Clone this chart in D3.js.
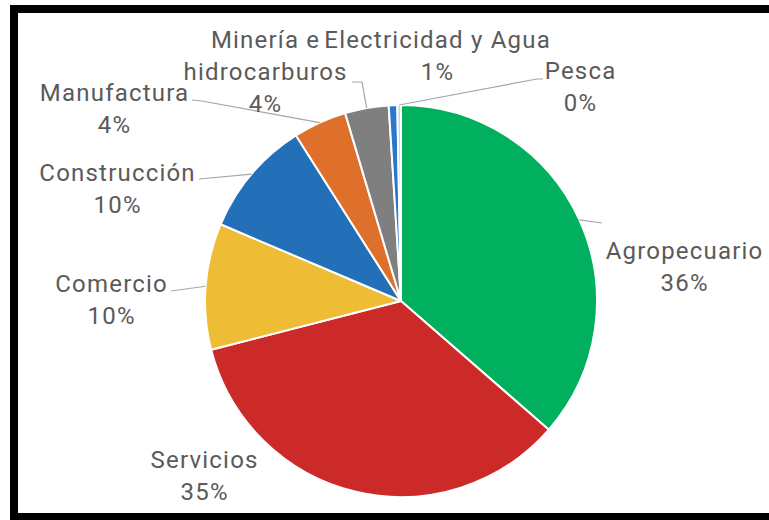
<!DOCTYPE html>
<html>
<head>
<meta charset="utf-8">
<script src="https://cdn.jsdelivr.net/npm/d3@7/dist/d3.min.js"></script>
<style>
  html, body { margin: 0; padding: 0; background: #fff; }
  svg { display: block; }
  .lbl { font-family: Roboto, "Noto Sans", sans-serif; font-size: 24px; letter-spacing: 1.2px; fill: #5a5a5a; }
</style>
</head>
<body>
<svg id="chart" width="769" height="520"></svg>
<script>
// Share of each sector (percent), clockwise from 12 o'clock
const sectors = ["Agropecuario", "Servicios", "Comercio", "Construcción",
                 "Manufactura", "Minería e hidrocarburos", "Electricidad y Agua", "Pesca"];
const shares = [36.4, 34.6, 10.4, 9.6, 4.4, 3.6, 0.7, 0.3];
const sliceColors = ["#00b05f", "#cc2a28", "#efbd35", "#2470b8",
                     "#df702b", "#7f7f7f", "#2a78cc", "#bdd7ee"];

// Label text lines for each sector (category name split where it wraps)
const labelLines = {
  "Agropecuario": ["Agropecuario"],
  "Servicios": ["Servicios"],
  "Comercio": ["Comercio"],
  "Construcción": ["Construcción"],
  "Manufactura": ["Manufactura"],
  "Minería e hidrocarburos": ["Minería e", "hidrocarburos"],
  "Electricidad y Agua": ["Electricidad y Agua"],
  "Pesca": ["Pesca"]
};

// Label placement: centre x, baseline of first line, and leader path points
const labelLayout = {
  "Agropecuario": { x: 684, y: 259, leader: [[602, 223]] },
  "Servicios": { x: 204, y: 468, leader: null },
  "Comercio": { x: 111, y: 292, leader: [[171, 291]] },
  "Construcción": { x: 117, y: 181, leader: [[199, 179]] },
  "Manufactura": { x: 114, y: 101, leader: [[192, 100], [202, 101]] },
  "Minería e hidrocarburos": { x: 265, y: 48, leader: [[352, 82], [362, 82]] },
  "Electricidad y Agua": { x: 437, y: 48, leader: null },
  "Pesca": { x: 580, y: 79, leader: [[543, 79], [537, 79]] }
};

const W = 769, H = 520;
const cx = 401, cy = 301, radius = 196;
const lineGap = 32;
const spacing = 1.2; // matches the CSS letter-spacing; trailing space is re-centred

const svg = d3.select("#chart");

// frame: thick black rule on the left, top and bottom edges
const frame = svg.append("g").attr("fill", "#000");
frame.append("rect").attr("x", 10).attr("y", 5).attr("width", W - 10).attr("height", 8);
frame.append("rect").attr("x", 10).attr("y", 5).attr("width", 8).attr("height", H - 5);
frame.append("rect").attr("x", 10).attr("y", 513).attr("width", W - 10).attr("height", 7);

const data = sectors.map((s, i) => ({ sector: s, share: shares[i], color: sliceColors[i] }));

const pie = d3.pie().sort(null).value(d => d.share);
const arcs = pie(data);
const arc = d3.arc().innerRadius(0).outerRadius(radius);

const g = svg.append("g").attr("transform", `translate(${cx},${cy})`);

g.selectAll("path.slice")
  .data(arcs)
  .join("path")
  .attr("class", "slice")
  .attr("d", arc)
  .attr("fill", d => d.data.color)
  .attr("stroke", "#fff")
  .attr("stroke-width", 2)
  .attr("stroke-linejoin", "round");

// leader lines from the slice's outer edge (at mid-angle) to its label
const edge = d => {
  const a = (d.startAngle + d.endAngle) / 2;
  return [cx + radius * Math.sin(a), cy - radius * Math.cos(a)];
};

svg.append("g")
  .selectAll("path")
  .data(arcs.filter(d => labelLayout[d.data.sector].leader))
  .join("path")
  .attr("fill", "none")
  .attr("stroke", "#a6a6a6")
  .attr("stroke-width", 1.2)
  .attr("d", d => d3.line()([edge(d), ...labelLayout[d.data.sector].leader.slice().reverse()]));

// labels: category name then rounded percentage
const labels = svg.append("g");
arcs.forEach(d => {
  const lay = labelLayout[d.data.sector];
  const lines = labelLines[d.data.sector].concat([Math.round(d.data.share) + "%"]);
  const t = labels.append("text")
    .attr("class", "lbl")
    .attr("text-anchor", "middle");
  lines.forEach((ln, i) => {
    t.append("tspan")
      .attr("x", lay.x + spacing / 2)
      .attr("y", lay.y + i * lineGap)
      .text(ln);
  });
});
</script>
</body>
</html>
